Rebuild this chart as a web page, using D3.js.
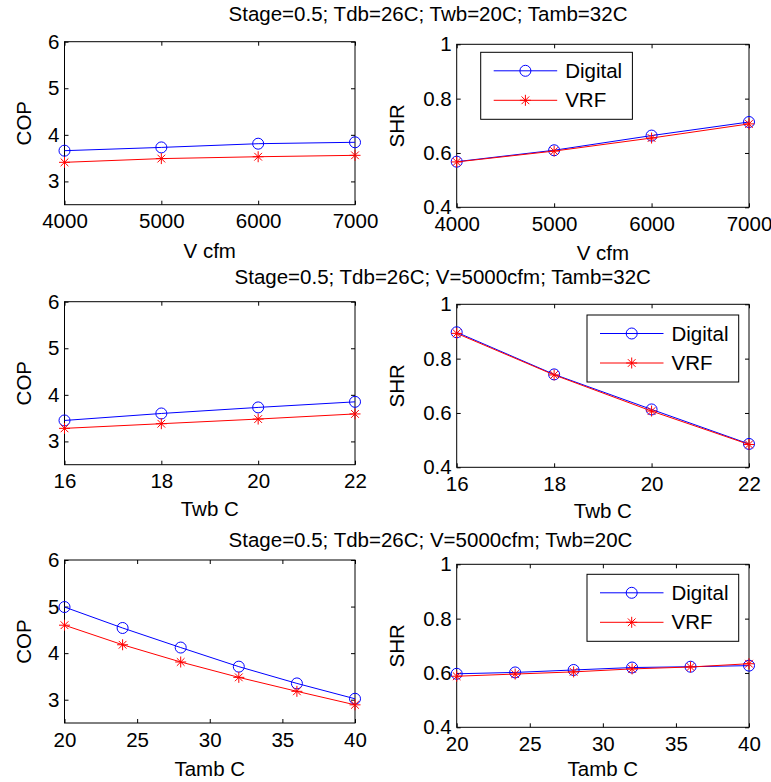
<!DOCTYPE html>
<html>
<head>
<meta charset="utf-8">
<script src="https://cdn.jsdelivr.net/npm/d3@7"></script>
<style>
  body { margin: 0; background: #fff; }
  svg { display: block; }
  text { font-family: "Liberation Sans", Arial, sans-serif; fill: #000; }
</style>
</head>
<body>
<svg id="fig" width="771" height="782"></svg>
<script>
// airflow sweep
var vCfm = [4000, 5000, 6000, 7000];
var copDigitalV = [3.66, 3.73, 3.81, 3.84];
var copVrfV = [3.41, 3.49, 3.53, 3.56];
var shrDigitalV = [0.568, 0.610, 0.664, 0.714];
var shrVrfV = [0.567, 0.607, 0.655, 0.707];

// wet bulb sweep
var twbC = [16, 18, 20, 22];
var copDigitalTwb = [3.45, 3.60, 3.73, 3.85];
var copVrfTwb = [3.28, 3.38, 3.48, 3.59];
var shrDigitalTwb = [0.897, 0.742, 0.613, 0.486];
var shrVrfTwb = [0.893, 0.740, 0.607, 0.484];

// ambient sweep
var tambC = [20, 24, 28, 32, 36, 40];
var copDigitalTamb = [4.99, 4.54, 4.12, 3.71, 3.35, 3.02];
var copVrfTamb = [4.60, 4.18, 3.81, 3.48, 3.18, 2.89];
var shrDigitalTamb = [0.597, 0.602, 0.611, 0.620, 0.623, 0.627];
var shrVrfTamb = [0.588, 0.596, 0.604, 0.615, 0.622, 0.634];

var xTicksV = [4000, 5000, 6000, 7000];
var xTicksTwb = [16, 18, 20, 22];
var xTicksTamb = [20, 25, 30, 35, 40];
var copTicks = [3, 4, 5, 6];
var shrTicks = [0.4, 0.6, 0.8, 1];

var seriesNames = ["Digital", "VRF"];
var rowTitles = [
  "Stage=0.5; Tdb=26C; Twb=20C; Tamb=32C",
  "Stage=0.5; Tdb=26C; V=5000cfm; Tamb=32C",
  "Stage=0.5; Tdb=26C; V=5000cfm; Twb=20C"
];

var svg = d3.select("#fig");
var FS = 20.5;
var W_L = 290.5, W_R = 292.3, H = 163;

function asterisk(s) {
  var k = s * 0.7;
  return "M" + (-s) + ",0L" + s + ",0M0," + (-s) + "L0," + s +
    "M" + (-k) + "," + (-k) + "L" + k + "," + k + "M" + (-k) + "," + k + "L" + k + "," + (-k);
}

function styleAxis(sel) {
  sel.select(".domain").remove();
  sel.selectAll(".tick line").attr("stroke", "#000");
  sel.selectAll("text").style("font-size", FS + "px").attr("fill", "#000");
}

function drawPanel(p) {
  var x = d3.scaleLinear().domain(p.xDomain).range([p.left, p.left + p.w]);
  var y = d3.scaleLinear().domain(p.yDomain).range([p.top + p.h, p.top]);
  var g = svg.append("g");

  g.append("rect")
    .attr("x", p.left).attr("y", p.top)
    .attr("width", p.w).attr("height", p.h)
    .attr("fill", "#fff");

  g.append("g").attr("transform", "translate(0," + (p.top + p.h) + ")")
    .call(d3.axisBottom(x).tickValues(p.xTicks).tickSizeInner(-4).tickSizeOuter(0)
      .tickPadding(9).tickFormat(d3.format("d")))
    .call(styleAxis);
  g.append("g").attr("transform", "translate(0," + p.top + ")")
    .call(d3.axisTop(x).tickValues(p.xTicks).tickSizeInner(-4).tickSizeOuter(0).tickFormat(""))
    .call(styleAxis);
  g.append("g").attr("transform", "translate(" + p.left + ",0)")
    .call(d3.axisLeft(y).tickValues(p.yTicks).tickSizeInner(-4).tickSizeOuter(0)
      .tickPadding(5).tickFormat(d3.format("~g")))
    .call(styleAxis);
  g.append("g").attr("transform", "translate(" + (p.left + p.w) + ",0)")
    .call(d3.axisRight(y).tickValues(p.yTicks).tickSizeInner(-4).tickSizeOuter(0).tickFormat(""))
    .call(styleAxis);

  g.append("rect")
    .attr("x", p.left).attr("y", p.top)
    .attr("width", p.w).attr("height", p.h)
    .attr("fill", "none").attr("stroke", "#000").attr("stroke-width", 1);

  var line = d3.line().x(function (d, i) { return x(p.xs[i]); }).y(function (d) { return y(d); });

  g.append("path").datum(p.digital)
    .attr("d", line).attr("fill", "none").attr("stroke", "#0000ff").attr("stroke-width", 1);
  g.selectAll(".dig").data(p.digital).enter().append("circle")
    .attr("cx", function (d, i) { return x(p.xs[i]); })
    .attr("cy", function (d) { return y(d); })
    .attr("r", 5.5).attr("fill", "none").attr("stroke", "#0000ff").attr("stroke-width", 1);

  g.append("path").datum(p.vrf)
    .attr("d", line).attr("fill", "none").attr("stroke", "#ff0000").attr("stroke-width", 1);
  g.selectAll(".vrf").data(p.vrf).enter().append("path")
    .attr("transform", function (d, i) { return "translate(" + x(p.xs[i]) + "," + y(d) + ")"; })
    .attr("d", asterisk(5.5)).attr("fill", "none").attr("stroke", "#ff0000").attr("stroke-width", 1);

  g.append("text")
    .attr("x", p.left + p.w / 2).attr("y", p.top + p.h + p.xLabelOff)
    .attr("dy", "0.35em").attr("text-anchor", "middle")
    .style("font-size", FS + "px").text(p.xLabel);
  g.append("text")
    .attr("transform", "translate(" + (p.left - p.yLabelOff) + "," + (p.top + p.h / 2) + ") rotate(-90)")
    .attr("dy", "0.35em").attr("text-anchor", "middle")
    .style("font-size", FS + "px").text(p.yLabel);

  if (p.legend) {
    var lx = p.legend[0], ly = p.legend[1];
    var lg = g.append("g").attr("transform", "translate(" + lx + "," + ly + ")");
    lg.append("rect").attr("width", 151.7).attr("height", 67)
      .attr("fill", "#fff").attr("stroke", "#000").attr("stroke-width", 1);
    var rows = [18.5, 48];
    lg.append("line").attr("x1", 13).attr("x2", 76.5).attr("y1", rows[0]).attr("y2", rows[0])
      .attr("stroke", "#0000ff");
    lg.append("circle").attr("cx", 44.7).attr("cy", rows[0]).attr("r", 5.5)
      .attr("fill", "none").attr("stroke", "#0000ff");
    lg.append("line").attr("x1", 13).attr("x2", 76.5).attr("y1", rows[1]).attr("y2", rows[1])
      .attr("stroke", "#ff0000");
    lg.append("path").attr("transform", "translate(44.7," + rows[1] + ")")
      .attr("d", asterisk(5.5)).attr("fill", "none").attr("stroke", "#ff0000");
    lg.selectAll(".lt").data(seriesNames).enter().append("text")
      .attr("x", 84.5).attr("y", function (d, i) { return rows[i]; })
      .attr("dy", "0.35em").style("font-size", FS + "px").text(function (d) { return d; });
  }
}

var leftX = 64.5, rightX = 456.7;
var leftTops = [41.7, 301.7, 560];
var rightTops = [44.3, 304.3, 564.3];
var leftLabelOff = [46.5, 44.5, 46];
var rightLabelOff = [46, 44, 41.5];
var sweeps = [
  { xs: vCfm, ticks: xTicksV, dom: [4000, 7000], label: "V cfm",
    cop: [copDigitalV, copVrfV], shr: [shrDigitalV, shrVrfV], legend: [480.7, 52.3] },
  { xs: twbC, ticks: xTicksTwb, dom: [16, 22], label: "Twb C",
    cop: [copDigitalTwb, copVrfTwb], shr: [shrDigitalTwb, shrVrfTwb], legend: [587, 315] },
  { xs: tambC, ticks: xTicksTamb, dom: [20, 40], label: "Tamb C",
    cop: [copDigitalTamb, copVrfTamb], shr: [shrDigitalTamb, shrVrfTamb], legend: [587, 574.3] }
];
var titlePos = [[428, 20.7], [442.7, 284.3], [430.5, 546.7]];

sweeps.forEach(function (s, r) {
  drawPanel({
    left: leftX, top: leftTops[r], w: W_L, h: H,
    xs: s.xs, xDomain: s.dom, xTicks: s.ticks,
    yDomain: [2.5, 6], yTicks: copTicks,
    digital: s.cop[0], vrf: s.cop[1],
    xLabel: s.label, xLabelOff: leftLabelOff[r], yLabel: "COP", yLabelOff: 40.5
  });
  drawPanel({
    left: rightX, top: rightTops[r], w: W_R, h: H,
    xs: s.xs, xDomain: s.dom, xTicks: s.ticks,
    yDomain: [0.4, 1], yTicks: shrTicks,
    digital: s.shr[0], vrf: s.shr[1],
    xLabel: s.label, xLabelOff: rightLabelOff[r], yLabel: "SHR", yLabelOff: 60,
    legend: s.legend
  });
  svg.append("text")
    .attr("x", titlePos[r][0]).attr("y", titlePos[r][1])
    .attr("text-anchor", "middle")
    .style("font-size", FS + "px").text(rowTitles[r]);
});
</script>
</body>
</html>
